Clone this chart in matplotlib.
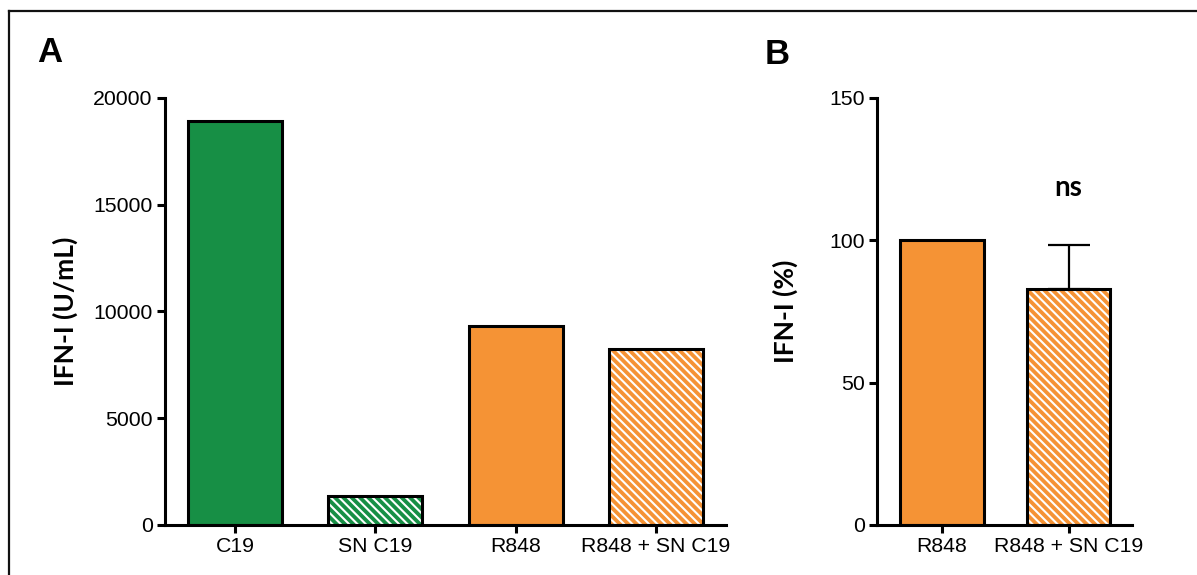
import matplotlib
matplotlib.use("Agg")
import matplotlib.pyplot as plt
from matplotlib.lines import Line2D

# Panel A data
a_labels = ["C19", "SN C19", "R848", "R848 + SN C19"]
a_values = [18900, 1350, 9300, 8250]
a_colors = ["#178f45", "#178f45", "#f59335", "#f59335"]
a_hatched = [False, True, False, True]

# Panel B data
b_labels = ["R848", "R848 + SN C19"]
b_values = [100, 83]
b_err_up = [0, 15.5]
b_colors = ["#f59335", "#f59335"]
b_hatched = [False, True]

plt.rcParams["font.family"] = ["Liberation Sans", "DejaVu Sans"]
plt.rcParams["hatch.linewidth"] = 1.5
plt.rcParams["hatch.color"] = "white"

fig = plt.figure(figsize=(11.97, 5.75), dpi=100)

# outer frame (top and left edges visible in the reference)
fig.add_artist(Line2D([9 / 1197, 1], [1 - 11 / 575, 1 - 11 / 575], color="#111111", lw=1.6))
fig.add_artist(Line2D([9 / 1197, 9 / 1197], [0, 1 - 11 / 575], color="#111111", lw=1.6))

ax_a = fig.add_axes([165 / 1197, 0.087, 561 / 1197, 0.7426])
ax_b = fig.add_axes([877 / 1197, 0.087, 255 / 1197, 0.7426])


def draw_bars(ax, labels, values, colors, hatched, width):
    x = list(range(len(labels)))
    for i in x:
        if hatched[i]:
            ax.bar(x[i], values[i], width=width, color=colors[i], edgecolor="white",
                   hatch="\\\\\\\\", linewidth=0, zorder=2)
        else:
            ax.bar(x[i], values[i], width=width, color=colors[i], linewidth=0, zorder=2)
        ax.bar(x[i], values[i], width=width, facecolor="none", edgecolor="black",
               linewidth=2.2, zorder=3)
    ax.set_xticks(x)
    ax.set_xticklabels(labels, fontsize=15.3)


def style_axis(ax):
    for side in ["top", "right"]:
        ax.spines[side].set_visible(False)
    for side in ["left", "bottom"]:
        ax.spines[side].set_linewidth(2.2)
    ax.tick_params(axis="both", direction="out", length=6, width=2.2, pad=3, labelsize=15.3)


draw_bars(ax_a, a_labels, a_values, a_colors, a_hatched, 0.67)
style_axis(ax_a)
ax_a.set_xlim(-0.5, 3.5)
ax_a.set_ylim(0, 20000)
ax_a.set_yticks([0, 5000, 10000, 15000, 20000])
ax_a.set_ylabel("IFN-I (U/mL)", fontsize=19, fontweight="bold", family="Lato", labelpad=11)

draw_bars(ax_b, b_labels, b_values, b_colors, b_hatched, 0.66)
ax_b.errorbar([1], [b_values[1]], yerr=[[0], [b_err_up[1]]], fmt="none", ecolor="black",
              elinewidth=1.6, capsize=15, capthick=1.6, zorder=1)
style_axis(ax_b)
ax_b.set_xlim(-0.51, 1.5)
ax_b.set_ylim(0, 150)
ax_b.set_yticks([0, 50, 100, 150])
ax_b.set_ylabel("IFN-I (%)", fontsize=19, fontweight="bold", family="Lato", labelpad=22)
ax_b.text(1, 118.5, "ns", ha="center", va="center", fontsize=20, fontweight="bold", family="Lato")

fig.text(50 / 1197, 1 - 52 / 575, "A", ha="center", va="center", fontsize=25, fontweight="bold")
fig.text(777 / 1197, 1 - 54 / 575, "B", ha="center", va="center", fontsize=25, fontweight="bold")

fig.savefig("out.png", dpi=100)
